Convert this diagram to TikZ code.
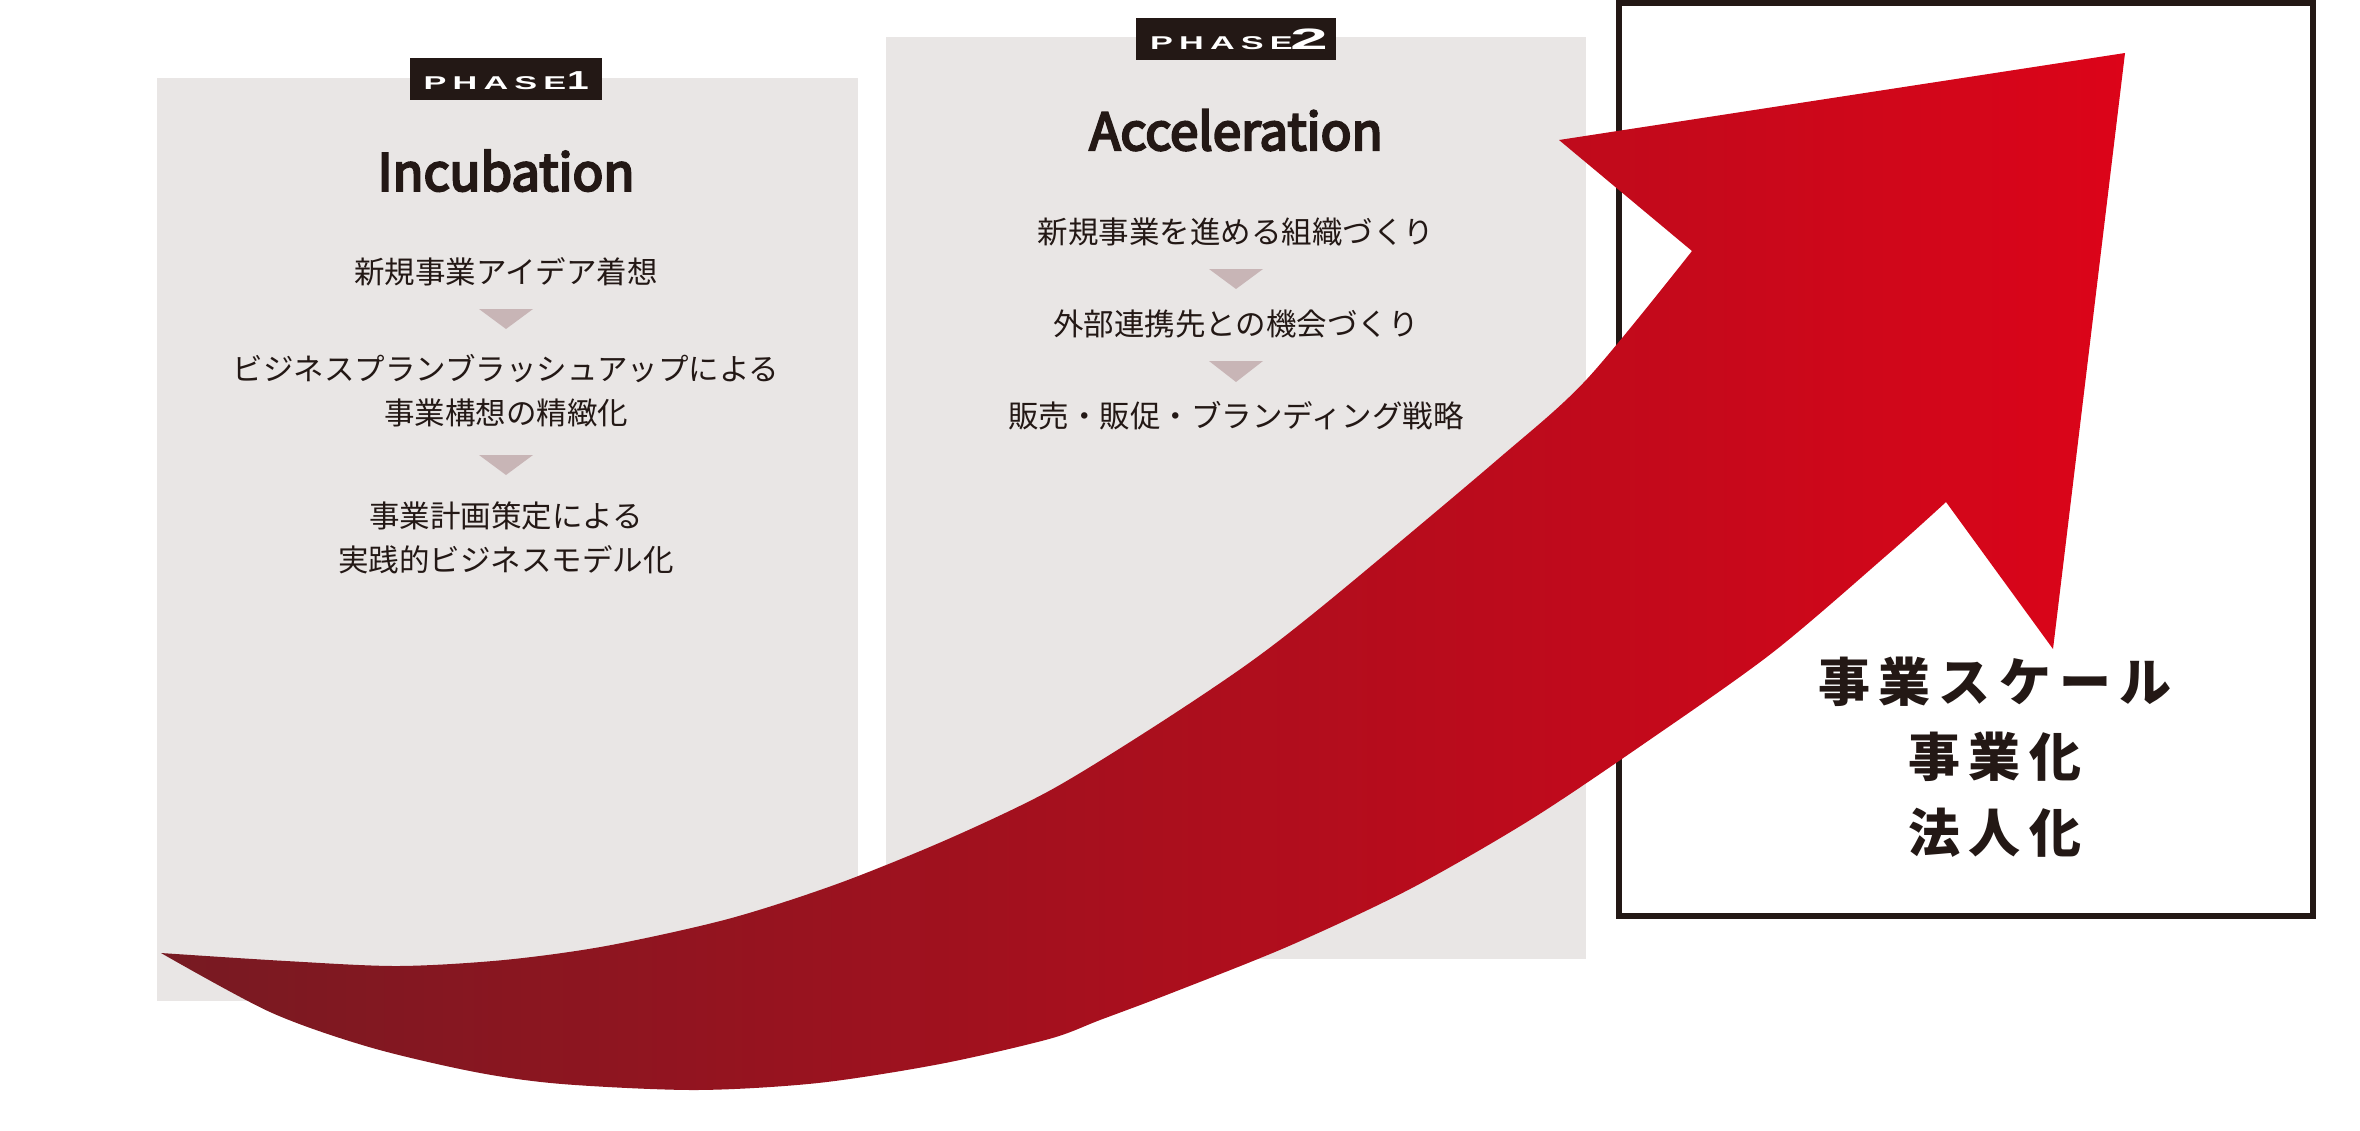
\documentclass[tikz,border=0pt]{standalone}
\usepackage{fontspec}
\newfontfamily\jp{Noto Sans CJK JP}
\newfontfamily\jptitle{Noto Sans CJK JP}[FakeBold=4.5]
\newfontfamily\jpbig{Noto Sans CJK JP}[LetterSpace=16]
\newfontfamily\phasefont{Liberation Sans}[LetterSpace=18]
\newfontfamily\digitfont{Liberation Sans}
\definecolor{boxgray}{HTML}{E9E6E5}
\definecolor{trigray}{HTML}{C8B5B6}
\definecolor{ink}{HTML}{231815}
\definecolor{reddark}{HTML}{771A22}
\definecolor{redmid}{HTML}{AD0F1C}
\definecolor{redbright}{HTML}{DC0419}
\tikzset{
  phasebox/.style={fill=boxgray, draw=none},
  phaselabel/.style={fill=ink, inner sep=0pt, minimum width=192pt, minimum height=42pt},
  phaseword/.style={text=white, inner sep=0pt, anchor=base west, font=\phasefont\bfseries\fontsize{18.5}{18.5}\selectfont},
  phasedigit/.style={text=white, inner sep=0pt, anchor=base, font=\digitfont\bfseries\fontsize{26}{26}\selectfont},
  titletext/.style={font=\jptitle\fontsize{51}{51}\selectfont, text=ink, inner sep=0pt, anchor=base},
  item/.style={font=\jp\fontsize{30.5}{44}\selectfont, text=ink, align=center, inner sep=0pt},
  tri/.style={fill=trigray, draw=none},
  goal/.style={font=\jpbig\bfseries\fontsize{52}{75.5}\selectfont, text=ink, align=center, inner sep=0pt},
  goalbox/.style={draw=ink, line width=6pt, fill=none},
}
\begin{document}
\begin{tikzpicture}[x=1pt,y=-1pt]
\useasboundingbox (0,0) rectangle (2360,1130);
\fill[white] (0,0) rectangle (2360,1130);

% Phase boxes
\fill[phasebox] (157,78) rectangle (858,1001);
\fill[phasebox] (886,37) rectangle (1586,959);

% Phase labels
\node[phaselabel] (lab1) at (506,79) {};
\node[phaseword] (lab1w) at (423.5,89.3) {\scalebox{1.85}[1]{PHASE}};
\node[phasedigit] (lab1d) at (578,89.3) {\scalebox{1.5}[1]{1}};
\node[phaselabel, minimum width=200pt] (lab2) at (1236,39) {};
\node[phaseword] (lab2w) at (1150,49.3) {\scalebox{1.85}[1]{PHASE}};
\node[phasedigit, font=\digitfont\bfseries\fontsize{29.5}{29.5}\selectfont] (lab2d) at (1309,49.3) {\scalebox{2.3}[1]{2}};

% Titles
\node[titletext] (t1) at (506,190.7) {Incubation};
\node[titletext] (t2) at (1236,150) {Acceleration};

% Phase 1 items
\node[item] (p1a) at (506,272) {新規事業アイデア着想};
\fill[tri] (479,309) -- (533,309) -- (506,329) -- cycle;
\node[item] (p1b) at (506,391) {ビジネスプランブラッシュアップによる\\事業構想の精緻化};
\fill[tri] (479,455) -- (533,455) -- (506,475) -- cycle;
\node[item] (p1c) at (506,538) {事業計画策定による\\実践的ビジネスモデル化};

% Phase 2 items
\node[item] (p2a) at (1236,232) {新規事業を進める組織づくり};
\fill[tri] (1209,269) -- (1263,269) -- (1236,289) -- cycle;
\node[item] (p2b) at (1236,324) {外部連携先との機会づくり};
\fill[tri] (1209,361) -- (1263,361) -- (1236,382) -- cycle;
\node[item] (p2c) at (1236,416) {販売・販促・ブランディング戦略};

% Goal box
\draw[goalbox] (1619,3) rectangle (2313,916);
\node[goal] (goaltext) at (1995,757) {事業スケール\\事業化\\法人化};

% Arrow
\shade[left color=reddark, middle color=redmid, right color=redbright]
  plot[smooth, tension=0.5] coordinates {(161,953) (286,961) (398,966) (504,960) (606,946) (728,919) (837,884) (946,840) (1049,791) (1152,728) (1249,663) (1330,600) (1497,460) (1587,379) (1692,251)}
  -- (1559,140) -- (2125,53) -- (2053,649) -- (1946,502)
  -- plot[smooth, tension=0.5] coordinates {(1946,502) (1887,555) (1772,653) (1645,743) (1530,820) (1410,889) (1289,946) (1169,994) (1100,1020) (1049,1039) (940,1064) (818,1083) (696,1090) (562,1084) (475,1072) (369,1047) (270,1012) (161,953)}
  -- cycle;
\end{tikzpicture}
\end{document}
